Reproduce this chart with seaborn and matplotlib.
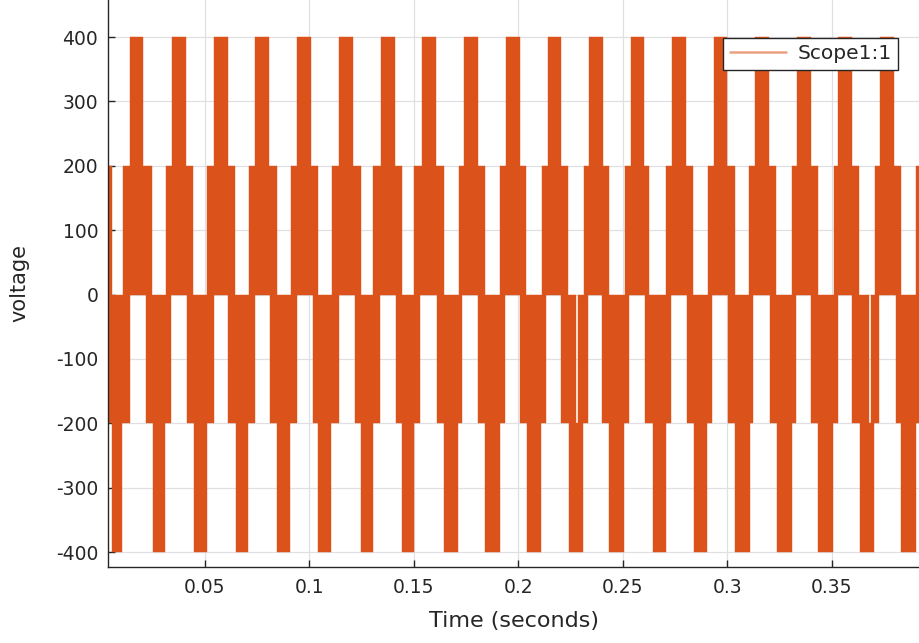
import numpy as np
import pandas as pd
import matplotlib
matplotlib.use("Agg")
import matplotlib.pyplot as plt
from matplotlib.lines import Line2D
import seaborn as sns

# ---- data (time in seconds, voltage levels) ----
levels = [-400, -300, -200, -100, 0, 100, 200, 300, 400]
xticks = [0.05, 0.1, 0.15, 0.2, 0.25, 0.3, 0.35]
xtick_labels = ["0.05", "0.1", "0.15", "0.2", "0.25", "0.3", "0.35"]

# band 200 -> 400 (positive peak switching)
pos_hi_start = [0.0141, 0.0343, 0.0544, 0.0743, 0.0943, 0.1143, 0.1343, 0.1540, 0.1740, 0.1940,
                0.2140, 0.2339, 0.2537, 0.2736, 0.2934, 0.3134, 0.3333, 0.3531, 0.3729]
pos_hi_end = [0.0207, 0.0409, 0.0610, 0.0809, 0.1009, 0.1209, 0.1409, 0.1606, 0.1806, 0.2006,
              0.2206, 0.2405, 0.2603, 0.2802, 0.3000, 0.3200, 0.3399, 0.3597, 0.3795]
# band 0 -> 200
pos_lo_start = [0.0000, 0.0109, 0.0315, 0.0513, 0.0712, 0.0911, 0.1110, 0.1306, 0.1502, 0.1717,
                0.1914, 0.2115, 0.2312, 0.2508, 0.2707, 0.2906, 0.3105, 0.3309, 0.3508, 0.3707, 0.3901]
pos_lo_end = [0.0057, 0.0250, 0.0446, 0.0645, 0.0845, 0.1043, 0.1247, 0.1444, 0.1644, 0.1839,
              0.2039, 0.2237, 0.2433, 0.2627, 0.2837, 0.3037, 0.3232, 0.3431, 0.3630, 0.3829, 0.4000]
# band -200 -> 0
neg_lo_start = [0.0000, 0.0219, 0.0418, 0.0614, 0.0813, 0.1017, 0.1219, 0.1414, 0.1609, 0.1807,
                0.2007, 0.2202, 0.2284, 0.2401, 0.2608, 0.2807, 0.3005, 0.3204, 0.3402, 0.3598,
                0.3687, 0.3805]
neg_lo_end = [0.0144, 0.0338, 0.0545, 0.0741, 0.0940, 0.1144, 0.1338, 0.1532, 0.1733, 0.1935,
              0.2134, 0.2277, 0.2333, 0.2528, 0.2731, 0.2927, 0.3124, 0.3328, 0.3530, 0.3679,
              0.3725, 0.3930]
# band -400 -> -200 (negative peak switching)
neg_hi_start = [0.0057, 0.0252, 0.0451, 0.0650, 0.0848, 0.1043, 0.1250, 0.1446, 0.1643, 0.1843,
                0.2041, 0.2241, 0.2436, 0.2643, 0.2839, 0.3038, 0.3235, 0.3434, 0.3633, 0.3829]
neg_hi_end = [0.0105, 0.0311, 0.0513, 0.0709, 0.0908, 0.1104, 0.1306, 0.1500, 0.1712, 0.1911,
              0.2110, 0.2309, 0.2505, 0.2704, 0.2903, 0.3110, 0.3307, 0.3503, 0.3701, 0.3901]

band_low = [200, 0, -200, -400]
band_high = [400, 200, 0, -200]

# ---- build tidy table ----
rows = []
for starts, ends, lo, hi in [(pos_hi_start, pos_hi_end, band_low[0], band_high[0]),
                             (pos_lo_start, pos_lo_end, band_low[1], band_high[1]),
                             (neg_lo_start, neg_lo_end, band_low[2], band_high[2]),
                             (neg_hi_start, neg_hi_end, band_low[3], band_high[3])]:
    for s, e in zip(starts, ends):
        rows.append({"start": s, "end": e, "low": lo, "high": hi})
bands = pd.DataFrame(rows)

# ---- styling ----
sns.set_theme(style="whitegrid")
plt.rcParams["font.family"] = ["DejaVu Sans"]

color = "#DB531A"
text_color = "#262626"

fig = plt.figure(figsize=(9.2, 6.43), dpi=100)
ax = fig.add_axes([108 / 920, 76 / 643, 812 / 920, 567 / 643])
ax.set_facecolor("white")

ax.bar(bands["start"], bands["high"] - bands["low"], width=bands["end"] - bands["start"],
       bottom=bands["low"], align="edge", color=color, edgecolor=color, linewidth=0.3, zorder=3)

ax.set_xlim(0.0038, 0.3921)
ax.set_ylim(-423.3, 457.5)
ax.set_xticks(xticks)
ax.set_xticklabels(xtick_labels)
ax.set_yticks(levels)
ax.set_yticklabels([str(v) for v in levels])

ax.grid(True, color="#E0E0E4", linewidth=0.9, zorder=0)
ax.set_axisbelow(True)
sns.despine(ax=ax, top=True, right=True)
for side in ["left", "bottom"]:
    ax.spines[side].set_color(text_color)
    ax.spines[side].set_linewidth(1.0)
    ax.spines[side].set_zorder(5)

ax.tick_params(axis="both", direction="in", length=5, width=1.0, color=text_color,
               labelcolor=text_color, labelsize=13.5)
ax.tick_params(axis="x", pad=8, bottom=True)
ax.tick_params(axis="y", pad=7, left=True)

ax.set_xlabel("Time (seconds)", fontsize=16, color=text_color)
ax.set_ylabel("voltage", fontsize=15, color=text_color)
ax.xaxis.set_label_coords(0.5, -0.077)
ax.yaxis.set_label_coords(-0.0973, 0.5)

handle = Line2D([0], [0], color=color, alpha=0.55, linewidth=1.8)
leg = ax.legend([handle], ["Scope1:1"], loc="upper right", bbox_to_anchor=(0.973, 0.933),
                fontsize=14.5, frameon=True, fancybox=False, framealpha=1.0,
                edgecolor="#262626", handlelength=2.8, borderpad=0.32, handletextpad=0.55,
                borderaxespad=0)
leg.get_frame().set_linewidth(1.0)
leg.set_zorder(10)
for t in leg.get_texts():
    t.set_color(text_color)

fig.savefig("out.png", dpi=100, facecolor="white")
